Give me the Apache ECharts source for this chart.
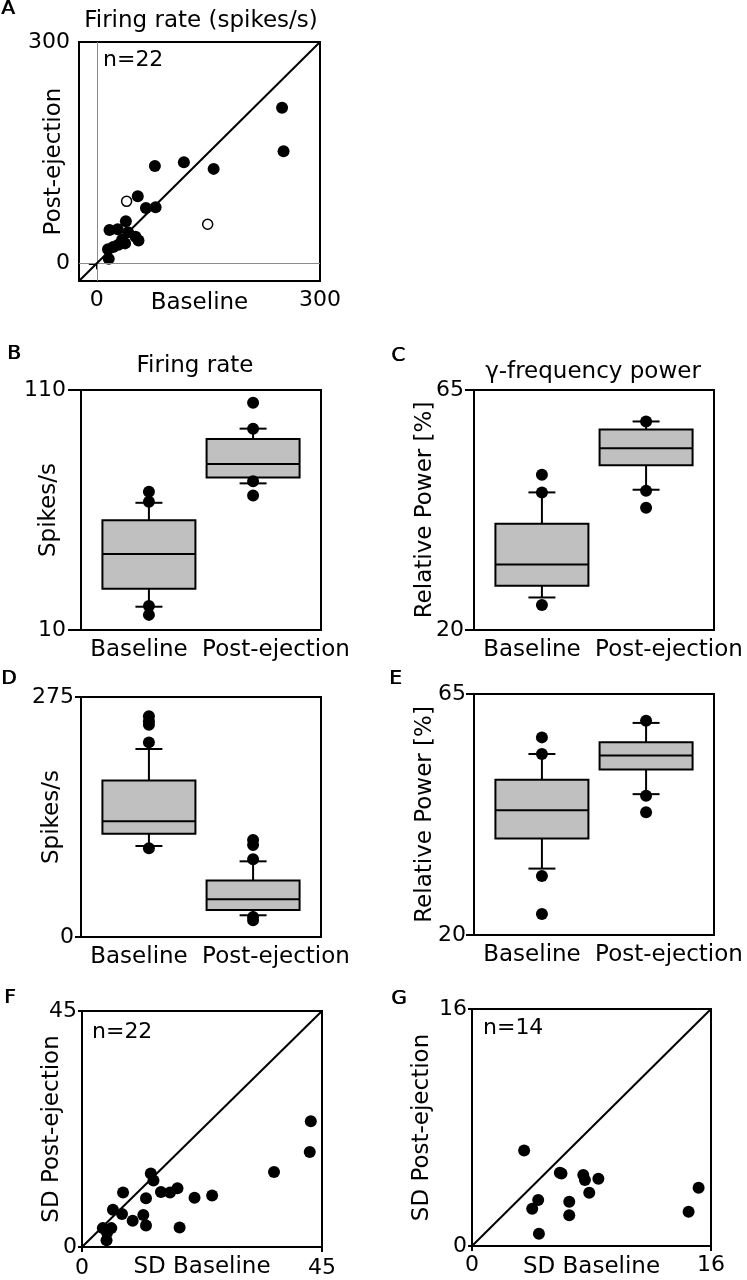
<!DOCTYPE html>
<html><head><meta charset="utf-8">
<script src="https://cdn.jsdelivr.net/npm/echarts@6/dist/echarts.min.js"></script>
<style>html,body{margin:0;padding:0;background:#fff}#c{width:747px;height:1280px}</style>
</head><body><div id="c"></div>
<script>
// ================= DATA =================
const categories = ['Baseline', 'Post-ejection'];

// Panel A – firing rate (spikes/s): [baseline, post-ejection]
const aFilled = [[249,211],[251,152],[78,132],[117,137],[157,128],[55,91],[66,75],[79,76],
  [39,57],[17,45],[28,46],[42,42],[52,36],[56,31],[34,32],[29,25],[38,27],[15,19],[16,6],[22,22]];
const aOpen = [[40,84],[149,53]];
const aRange = [-24, 300];

// Panel B – firing rate box plots [min, Q1, median, Q3, max]
const bBoxes = [[19.7,27.2,41.7,55.7,63.0],[71.1,73.5,79.2,89.6,93.9]];
const bOutBaseline = [67.6, 63.4, 20.0, 16.3];
const bOutPost = [104.7, 93.9, 72.0, 66.0];
const bRange = [10, 110];

// Panel C – gamma-frequency power
const cBoxes = [[26.1,28.3,32.3,39.9,45.8],[46.3,50.9,54.1,57.6,59.1]];
const cOutBaseline = [49.1, 45.8, 24.7];
const cOutPost = [59.1, 46.1, 42.9];
const cRange = [20, 65];

// Panel D – spikes/s
const dBoxes = [[104.3,118.4,132.6,179.3,215.4],[24.9,31.0,43.3,64.8,86.7]];
const dOutBaseline = [252.9, 247.1, 243.3, 223.0, 101.6];
const dOutPost = [111.1, 105.4, 89.0, 23.0, 19.2];
const dRange = [0, 275];

// Panel E – relative power
const eBoxes = [[32.4,38.0,43.3,49.0,53.8],[46.3,50.9,53.5,56.0,59.6]];
const eOutBaseline = [56.9, 53.8, 31.0, 23.9];
const eOutPost = [60.0, 46.0, 42.9];
const eRange = [20, 65];

// Panel F – SD (n=22)
const fPoints = [[42.9,24.0],[42.7,18.1],[36.0,14.3],[12.9,14.0],[13.4,12.7],[7.7,10.4],[12.0,9.3],
  [14.8,10.5],[16.5,10.4],[17.9,11.2],[21.1,9.4],[24.4,9.8],[5.8,7.1],[7.5,6.3],[9.5,5.0],[11.5,6.1],
  [12.0,4.1],[18.3,3.7],[3.9,3.6],[5.5,3.6],[4.7,2.7],[4.6,1.3]];
const fRange = [0, 45];

// Panel G – SD (n=14)
const gPoints = [[3.49,6.45],[5.88,4.94],[5.99,4.9],[7.45,4.79],[7.56,4.45],[8.46,4.54],[7.85,3.60],
  [4.43,3.10],[4.03,2.52],[6.51,2.99],[6.51,2.07],[4.48,0.83],[15.17,3.93],[14.50,2.31]];
const gRange = [0, 16];

// Panel letters, titles and sample-size notes
const panelLetters = ['A','B','C','D','E','F','G'];
const titles = ['Firing rate (spikes/s)', 'Firing rate', '\u03b3-frequency power'];
const nNotes = ['n=22', 'n=22', 'n=14'];

// ================= STYLE / LAYOUT =================
const FONT = 'DejaVu Sans';
const BLACK = '#000';
const grids = [
  {left:79, top:42, width:241, height:239},   // A
  {left:81, top:390, width:240, height:240},  // B
  {left:474, top:390, width:240, height:240}, // C
  {left:81, top:697, width:240, height:240},  // D
  {left:474, top:694, width:240, height:241}, // E
  {left:82, top:1011, width:240, height:239}, // F
  {left:472, top:1009, width:239, height:238} // G
].map(g => Object.assign({show:true, borderColor:BLACK, borderWidth:2, backgroundColor:'transparent'}, g));

function valAxis(gi, range, opt) {
  const ticks = [range[0] < 0 ? 0 : range[0], range[1]];
  return {
    type:'value', gridIndex:gi, min:range[0], max:range[1],
    splitLine:{show:false}, axisLine:{show:false},
    axisTick:{show:true, customValues:ticks, length:opt.tickLen, lineStyle:{color:BLACK, width:2}},
    axisLabel:{customValues:ticks, fontSize:22, color:BLACK, fontFamily:FONT, margin:opt.margin},
    name:opt.name, nameLocation:'middle', nameGap:opt.nameGap, nameMoveOverlap:false,
    nameTextStyle:{fontSize:23, color:BLACK, fontFamily:FONT}
  };
}
function catAxis(gi) {
  return {
    type:'category', gridIndex:gi,
    data: categories.map((c, i) => ({value:c, textStyle:{padding: i === 0 ? [0,4,0,0] : [0,0,0,30]}})),
    axisLine:{show:false}, axisTick:{show:false}, splitLine:{show:false},
    axisLabel:{interval:0, fontSize:23, color:BLACK, fontFamily:FONT, margin:9}
  };
}

function boxCenter(api, idx, v) {
  const bw = api.size([1, 0])[0];
  return api.coord([idx, v])[0] + (idx === 0 ? 1 : -1) * bw * 0.066;
}
function boxRender(params, api) {
  const idx = api.value(0);
  const mn = api.value(1), q1 = api.value(2), md = api.value(3), q3 = api.value(4), mx = api.value(5);
  const bw = api.size([1, 0])[0];
  const cx = boxCenter(api, idx, md);
  const w = bw * 0.775, cw = w * 0.29;
  const y = v => api.coord([idx, v])[1];
  const ls = {stroke:BLACK, lineWidth:2};
  return {type:'group', children:[
    {type:'line', shape:{x1:cx, y1:y(q3), x2:cx, y2:y(mx)}, style:ls},
    {type:'line', shape:{x1:cx, y1:y(q1), x2:cx, y2:y(mn)}, style:ls},
    {type:'line', shape:{x1:cx-cw/2, y1:y(mx), x2:cx+cw/2, y2:y(mx)}, style:ls},
    {type:'line', shape:{x1:cx-cw/2, y1:y(mn), x2:cx+cw/2, y2:y(mn)}, style:ls},
    {type:'rect', shape:{x:cx-w/2, y:y(q3), width:w, height:y(q1)-y(q3)}, style:{fill:'#c0c0c0', stroke:BLACK, lineWidth:2}},
    {type:'line', shape:{x1:cx-w/2, y1:y(md), x2:cx+w/2, y2:y(md)}, style:ls}
  ]};
}
function dotRender(params, api) {
  const idx = api.value(0), v = api.value(1);
  const cx = boxCenter(api, idx, v);
  const cy = api.coord([idx, v])[1];
  return {type:'circle', shape:{cx:cx, cy:cy, r:6}, style:{fill:BLACK}};
}
function boxSeries(gi, boxes, outBase, outPost) {
  const outs = outBase.map(v => [0, v]).concat(outPost.map(v => [1, v]));
  return [
    {type:'custom', xAxisIndex:gi, yAxisIndex:gi, renderItem:boxRender,
     data: boxes.map((b, k) => [k].concat(b)), encode:{x:0, y:[1,2,3,4,5]}, z:2, silent:true},
    {type:'custom', xAxisIndex:gi, yAxisIndex:gi, renderItem:dotRender,
     data: outs, encode:{x:0, y:1}, z:3, silent:true}
  ];
}
function diag(range) {
  return {silent:true, symbol:'none', label:{show:false}, animation:false,
    lineStyle:{color:BLACK, width:2, type:'solid'},
    data:[[{coord:[range[0], range[0]]}, {coord:[range[1], range[1]]}]]};
}

const xAxes = [
  valAxis(0, aRange, {name:'Baseline', nameGap:11, margin:8, tickLen:6}),
  catAxis(1), catAxis(2), catAxis(3), catAxis(4),
  valAxis(5, fRange, {name:'SD Baseline', nameGap:9, margin:10, tickLen:5}),
  valAxis(6, gRange, {name:'SD Baseline', nameGap:10, margin:8, tickLen:5})
];
const yAxes = [
  valAxis(0, aRange, {name:'Post-ejection', nameGap:13, margin:9, tickLen:8}),
  valAxis(1, bRange, {name:'Spikes/s', nameGap:20, margin:15, tickLen:13}),
  valAxis(2, cRange, {name:'Relative Power [%]', nameGap:37, margin:10, tickLen:9}),
  valAxis(3, dRange, {name:'Spikes/s', nameGap:17, margin:7, tickLen:6}),
  valAxis(4, eRange, {name:'Relative Power [%]', nameGap:37, margin:8, tickLen:8}),
  valAxis(5, fRange, {name:'SD Post-ejection', nameGap:18, margin:5, tickLen:4}),
  valAxis(6, gRange, {name:'SD Post-ejection', nameGap:38, margin:5, tickLen:4})
];

const dot = {color:BLACK, opacity:1};
const series = [
  {type:'scatter', xAxisIndex:0, yAxisIndex:0, data:aFilled, symbolSize:12, itemStyle:dot, z:3,
   markLine:{silent:true, symbol:'none', label:{show:false}, animation:false,
     data:[
       {xAxis:0, lineStyle:{color:'#8a8a8a', width:1, type:'solid'}},
       {yAxis:0, lineStyle:{color:'#8a8a8a', width:1, type:'solid'}},
       [{coord:[aRange[0], aRange[0]], lineStyle:{color:BLACK, width:2, type:'solid'}}, {coord:[aRange[1], aRange[1]]}]
     ]}},
  {type:'scatter', xAxisIndex:0, yAxisIndex:0, data:aOpen, symbolSize:10, z:3,
   itemStyle:{color:'#fff', borderColor:BLACK, borderWidth:1.5, opacity:1}},
  ...boxSeries(1, bBoxes, bOutBaseline, bOutPost),
  ...boxSeries(2, cBoxes, cOutBaseline, cOutPost),
  ...boxSeries(3, dBoxes, dOutBaseline, dOutPost),
  ...boxSeries(4, eBoxes, eOutBaseline, eOutPost),
  {type:'scatter', xAxisIndex:5, yAxisIndex:5, data:fPoints, symbolSize:12, itemStyle:dot, z:3, markLine:diag(fRange)},
  {type:'scatter', xAxisIndex:6, yAxisIndex:6, data:gPoints, symbolSize:12, itemStyle:dot, z:3, markLine:diag(gRange)}
];

// text blocks via title components (panel letters drawn twice with a sub-pixel offset to look heavier)
const letterPos = [[1,-1],[7,344],[391,346],[1,669],[389,669],[4,988],[391,989]];
const titlePos = [[201,10],[195,355],[593,361]];
const notePos = [[103,49],[92,1021],[483,1017]];
const titleComps = [];
[0, 0.8].forEach(dx => panelLetters.forEach((t, i) => titleComps.push({text:t, left:letterPos[i][0] + dx, top:letterPos[i][1], padding:0,
  textStyle:{fontSize:20, fontWeight:'normal', fontFamily:FONT, color:BLACK}})));
titles.forEach((t, i) => titleComps.push({text:t, left:titlePos[i][0], top:titlePos[i][1], padding:0, textAlign:'center',
  textStyle:{fontSize:23, fontWeight:'normal', fontFamily:FONT, color:BLACK}}));
nNotes.forEach((t, i) => titleComps.push({text:t, left:notePos[i][0], top:notePos[i][1], padding:0,
  textStyle:{fontSize:22, fontWeight:'normal', fontFamily:FONT, color:BLACK}}));

const chart = echarts.init(document.getElementById('c'), null, {renderer:'canvas'});
chart.setOption({
  animation:false,
  backgroundColor:'#fff',
  title:titleComps,
  grid:grids, xAxis:xAxes, yAxis:yAxes, series:series
});
</script></body></html>
